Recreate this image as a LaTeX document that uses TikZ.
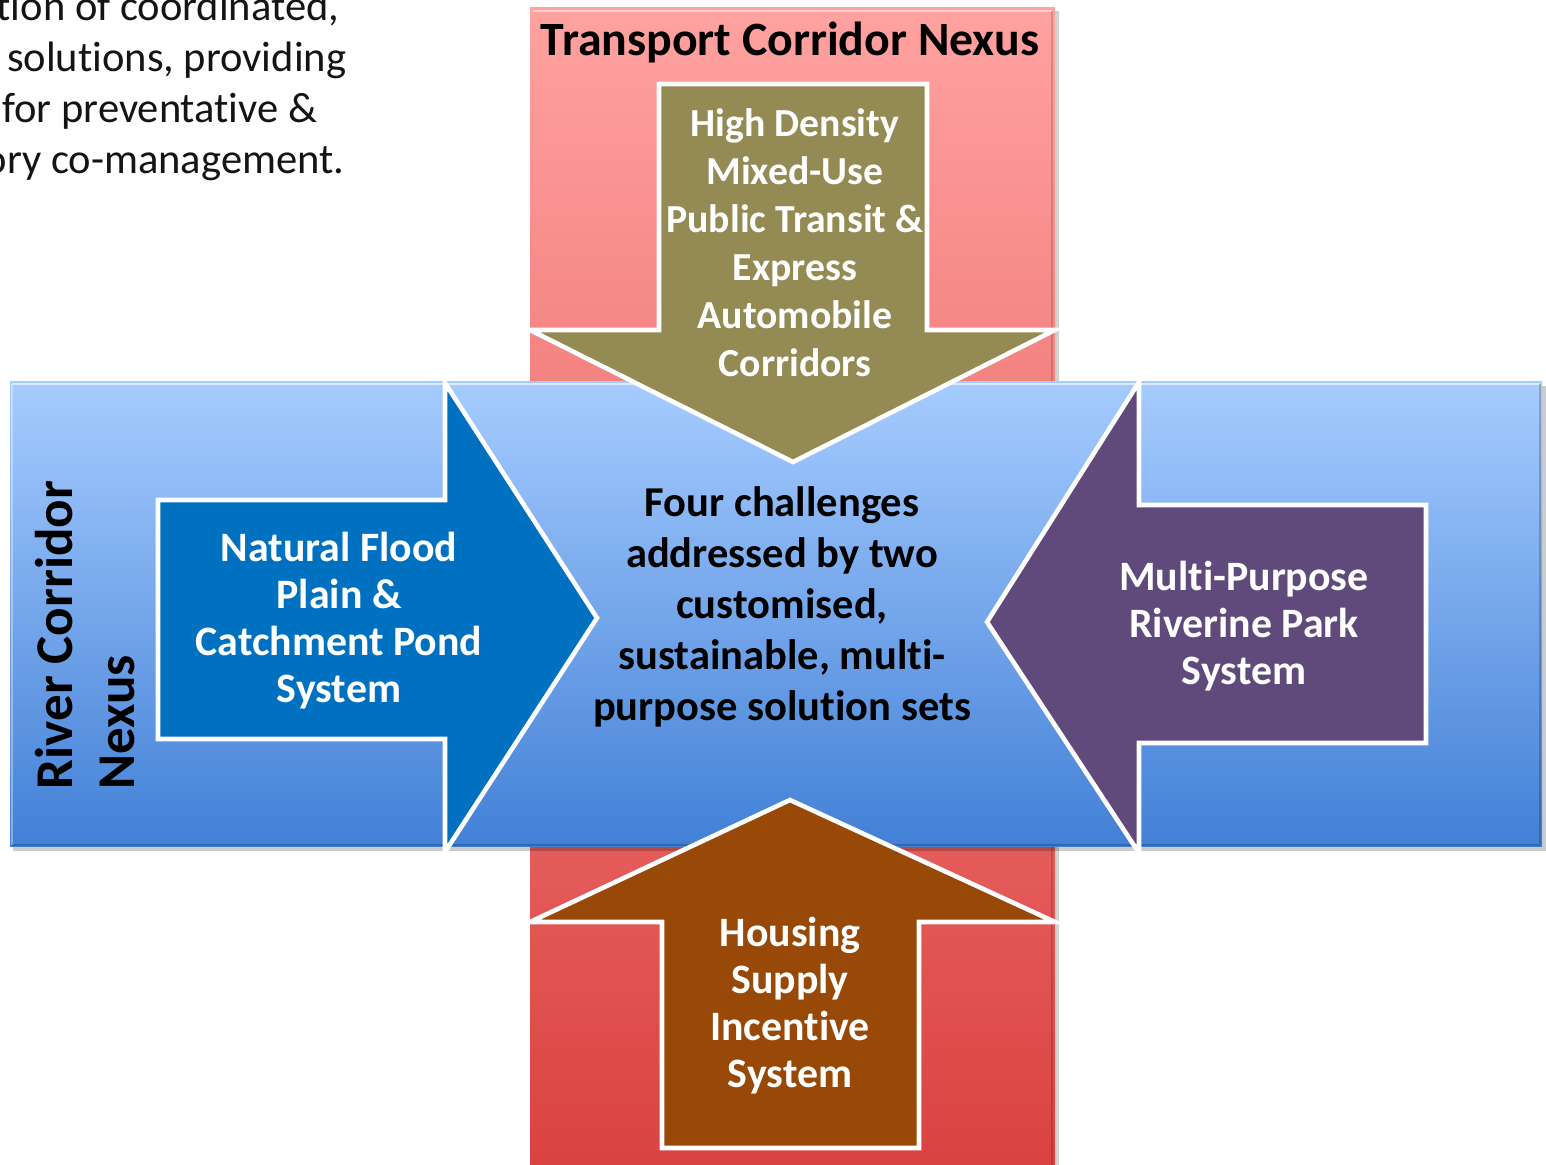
\documentclass[tikz,border=0pt]{standalone}
\usepackage{fontspec}
\setmainfont{Carlito}[RawFeature={-liga;-dlig;-clig}]
\definecolor{olivearrow}{RGB}{148,138,84}
\definecolor{brownarrow}{RGB}{152,72,7}
\definecolor{purplearrow}{RGB}{96,74,123}
\definecolor{bluearrow}{RGB}{0,112,192}
\definecolor{bandbluetop}{RGB}{166,204,255}
\definecolor{bandbluebot}{RGB}{66,128,214}
\definecolor{bandredtop}{RGB}{255,162,160}
\definecolor{bandredbot}{RGB}{218,66,64}
\definecolor{toptext}{RGB}{20,20,20}
\tikzset{
  arrowshape/.style={draw=white, line width=1.3pt, line join=miter},
  whitetext/.style={text=white, font=\bfseries\fontsize{11.9pt}{13.37pt}\selectfont, align=center, inner sep=0pt},
  blacktext/.style={text=black, font=\bfseries\fontsize{12.1pt}{14.51pt}\selectfont, align=center, inner sep=0pt},
  prose/.style={text=toptext, font=\fontsize{12.1pt}{14pt}\selectfont, inner sep=0pt, anchor=base east},
}
\begin{document}
\begin{tikzpicture}[x=0.01cm, y=-0.01cm]
\useasboundingbox (0,0) rectangle (1546,1165);
\begin{scope}
\clip (0,0) rectangle (1546,1165);
% top-left prose (cropped in the reference)
\node[prose] (p1) at (340,21) {tion of coordinated,};
\node[prose] (p2) at (347,72) {solutions, providing};
\node[prose] (p3) at (318,123) {for preventative \&};
\node[prose] (p4) at (345,174) {ory co-management.};
% red vertical band
\fill[black, opacity=0.18] (533,11) rectangle (1059,1170);
\shade[top color=bandredtop, bottom color=bandredbot] (530,8) rectangle (1055,1170);
\draw[white, opacity=0.5, line width=0.8pt] (533,11) -- (1052,11);
\draw[black, opacity=0.15, line width=0.8pt] (1052,11) -- (1052,1170);
% blue horizontal band
\fill[black, opacity=0.2] (13,386) rectangle (1546,851);
\shade[top color=bandbluetop, bottom color=bandbluebot] (10,382) rectangle (1542,847);
\draw[white, opacity=0.6, line width=0.8pt] (12,384) -- (1540,384);
\draw[white, opacity=0.35, line width=0.8pt] (12,384) -- (12,845);
\draw[black, opacity=0.2, line width=0.8pt] (1540,384) -- (1540,845) -- (12,845);
\end{scope}
% title
\node[text=black, font=\bfseries\fontsize{13.6pt}{16pt}\selectfont, inner sep=0pt] (title) at (790,42) {Transport Corridor Nexus};
% river label
\node[text=black, font=\bfseries\fontsize{15.1pt}{17.6pt}\selectfont, rotate=90, anchor=west, align=left, inner sep=0pt] (river) at (85,790) {River Corridor\\Nexus};
% top arrow
\draw[arrowshape, fill=olivearrow] (659,84) -- (927,84) -- (927,330) -- (1055,330) -- (793,462) -- (530,330) -- (659,330) -- cycle;
% bottom arrow
\draw[arrowshape, fill=brownarrow] (790,800) -- (1055,922) -- (919,922) -- (919,1148) -- (662,1148) -- (662,922) -- (530,922) -- cycle;
% left arrow
\draw[arrowshape, fill=bluearrow] (158,500) -- (445,500) -- (445,383) -- (597,618) -- (445,852) -- (445,739) -- (158,739) -- cycle;
% right arrow
\draw[arrowshape, fill=purplearrow] (1426,505) -- (1139,505) -- (1139,382) -- (987,622) -- (1139,853) -- (1139,743) -- (1426,743) -- cycle;
% texts
\node[whitetext, font=\bfseries\fontsize{11.3pt}{13.66pt}\selectfont] (ttop) at (795,243) {High Density\\Mixed-Use\\Public Transit \&\\Express\\Automobile\\Corridors};
\node[blacktext] (tcenter) at (782,607) {Four challenges\\addressed by two\\customised,\\sustainable, multi-\\purpose solution sets};
\node[whitetext] (tleft) at (339,621) {Natural Flood\\Plain \&\\Catchment Pond\\System};
\node[whitetext] (tright) at (1244,626) {Multi-Purpose\\Riverine Park\\System};
\node[whitetext] (tbottom) at (790,1006) {Housing\\Supply\\Incentive\\System};
\end{tikzpicture}
\end{document}
